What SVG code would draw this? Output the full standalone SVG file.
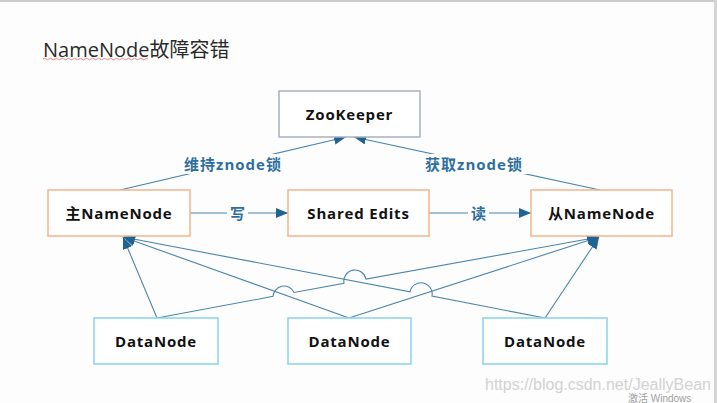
<svg xmlns="http://www.w3.org/2000/svg" width="717" height="403" viewBox="0 0 717 403">
<style>
.box{fill:#ffffff;stroke-width:1.5}
.nn{stroke:#f5b48a}
.zk{stroke:#a9b1bf}
.dn{stroke:#86d3ec}
.bt{font-family:"Open Sans","Noto Sans CJK SC",sans-serif;font-weight:700;font-size:15px;letter-spacing:0.8px;fill:#111111;text-anchor:middle;dominant-baseline:central}
.lbl{font-family:"Open Sans","Noto Sans CJK SC",sans-serif;font-weight:700;font-size:15px;letter-spacing:1px;fill:#2f6f9d;text-anchor:middle;dominant-baseline:central}
.ln{fill:none;stroke:#4a86ad;stroke-width:1.1}
</style>
<defs>
<marker id="ah" markerUnits="userSpaceOnUse" markerWidth="12" markerHeight="10" refX="12" refY="5" orient="auto" viewBox="0 0 12 10">
<path d="M0,0 L12,5 L0,10 z" fill="#1f6392"/>
</marker>
</defs>
<rect x="0" y="0" width="717" height="403" fill="#fdfdfd"/>
<rect x="0" y="0" width="717" height="2" fill="#cccccc"/>
<rect x="714" y="0" width="3" height="403" fill="#d4d4d4"/>
<g id="title">
<text x="43" y="57" font-family="'Open Sans','Noto Sans CJK SC',sans-serif" font-size="20" fill="#2a2a2a">NameNode故障容错</text>
<path d="M43,59 q1.5,-1.5 3,0 t3,0 t3,0 t3,0 t3,0 t3,0 t3,0 t3,0 t3,0 t3,0 t3,0 t3,0 t3,0 t3,0 t3,0 t3,0 t3,0 t3,0 t3,0 t3,0 t3,0 t3,0 t3,0 t3,0 t3,0 t3,0 t3,0 t3,0 t3,0 t3,0 t3,0 t3,0 t3,0 t3,0 t3,0" fill="none" stroke="#e06a6a" stroke-width="0.8"/>
</g>
<g id="connectors">
<path class="ln" d="M120,190 L346,137" marker-end="url(#ah)"/>
<path class="ln" d="M600,190 L354,137" marker-end="url(#ah)"/>
<path class="ln" d="M190,213 L288,213" marker-end="url(#ah)"/>
<path class="ln" d="M429,213 L531,213" marker-end="url(#ah)"/>
<path class="ln" d="M157,318 L123,237" marker-end="url(#ah)"/>
<path class="ln" d="M349,318 L123,237" marker-end="url(#ah)"/>
<path class="ln" d="M545,318 L432,296.1 A11,11 0 0 0 410,291.8 L123,237" marker-end="url(#ah)"/>
<path class="ln" d="M157,318 L273,296.4 A11,11 0 0 1 294,292.5 L344,283.2 A11,11 0 0 1 366,279.1 L599,237" marker-end="url(#ah)"/>
<path class="ln" d="M349,318 L599,237" marker-end="url(#ah)"/>
<path class="ln" d="M545,318 L599,237" marker-end="url(#ah)"/>
<rect x="179" y="154" width="108" height="20" fill="#fdfdfd"/>
<text class="lbl" x="233" y="164">维持znode锁</text>
<rect x="420" y="154" width="109" height="20" fill="#fdfdfd"/>
<text class="lbl" x="474" y="164">获取znode锁</text>
<rect x="227" y="203" width="21" height="20" fill="#fdfdfd"/>
<text class="lbl" x="238" y="213">写</text>
<rect x="468" y="203" width="21" height="20" fill="#fdfdfd"/>
<text class="lbl" x="479" y="213">读</text>
</g>
<g id="zookeeper">
<rect class="box zk" x="279" y="91" width="141" height="46"/>
<text class="bt" x="349.5" y="114">ZooKeeper</text>
</g>
<g id="active-namenode">
<rect class="box nn" x="48" y="190" width="142" height="46"/>
<text class="bt" x="119" y="213">主NameNode</text>
</g>
<g id="shared-edits">
<rect class="box nn" x="288" y="190" width="141" height="46"/>
<text class="bt" x="358.5" y="213">Shared Edits</text>
</g>
<g id="standby-namenode">
<rect class="box nn" x="531" y="190" width="141" height="46"/>
<text class="bt" x="601.5" y="213">从NameNode</text>
</g>
<g id="datanode-1">
<rect class="box dn" x="94" y="318" width="124" height="46"/>
<text class="bt" x="156" y="341">DataNode</text>
</g>
<g id="datanode-2">
<rect class="box dn" x="288" y="318" width="123" height="46"/>
<text class="bt" x="349.5" y="341">DataNode</text>
</g>
<g id="datanode-3">
<rect class="box dn" x="483" y="318" width="124" height="46"/>
<text class="bt" x="545" y="341">DataNode</text>
</g>
<g id="watermark">
<text x="485" y="390" font-family="'Liberation Sans',sans-serif" font-size="16" fill="#d2d2d2">https://blog.csdn.net/JeallyBean</text>
<text x="628" y="402" font-family="'Liberation Sans','Noto Sans CJK SC',sans-serif" font-size="10" fill="#a0a0a0">激活 Windows</text>
</g>
</svg>
